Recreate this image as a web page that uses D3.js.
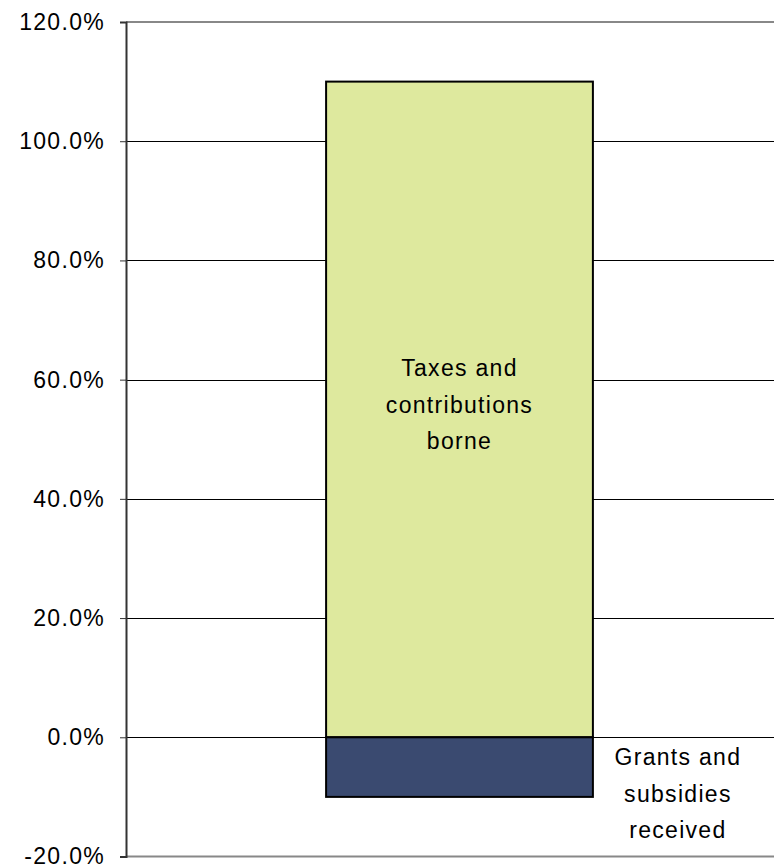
<!DOCTYPE html>
<html>
<head>
<meta charset="utf-8">
<script src="https://cdn.jsdelivr.net/npm/d3@7"></script>
<style>
  html, body { margin: 0; padding: 0; background: #fff; }
  svg text { font-family: "Liberation Sans", Arial, sans-serif; font-size: 23px; fill: #000; letter-spacing: 1.3px; }
</style>
</head>
<body>
<svg id="chart" width="774" height="866"></svg>
<script>
// Single stacked column: share borne vs. share received
const categories = [""];
const taxesBorne = [1.10];
const grantsReceived = [-0.10];
const yTicks = [-0.2, 0, 0.2, 0.4, 0.6, 0.8, 1.0, 1.2];
const taxesLabel = ["Taxes and", "contributions", "borne"];
const grantsLabel = ["Grants and", "subsidies", "received"];

const svg = d3.select("#chart");
const plot = { left: 126, right: 793, top: 22, bottom: 856.5 };

const y = d3.scaleLinear().domain([-0.2, 1.2]).range([plot.bottom, plot.top]);
const x = d3.scaleBand().domain(categories).range([plot.left, plot.right])
  .paddingInner(0.6).paddingOuter(0.3);

// Horizontal gridlines
svg.append("g").selectAll("line")
  .data(yTicks.filter(t => t > -0.2 && t < 1.2))
  .join("line")
  .attr("x1", plot.left).attr("x2", 774)
  .attr("y1", d => Math.round(y(d)) + 0.5).attr("y2", d => Math.round(y(d)) + 0.5)
  .attr("stroke", "#000").attr("stroke-width", 1);

// Plot area top and bottom border
[1.2, -0.2].forEach(t => {
  svg.append("line")
    .attr("x1", plot.left).attr("x2", 774)
    .attr("y1", y(t)).attr("y2", y(t))
    .attr("stroke", "#888").attr("stroke-width", 2);
});

// Bars
const bx = x(categories[0]);
const bw = x.bandwidth();
svg.append("rect")
  .attr("x", bx).attr("y", y(taxesBorne[0]))
  .attr("width", bw).attr("height", y(0) - y(taxesBorne[0]))
  .attr("fill", "#DEE99E").attr("stroke", "#000").attr("stroke-width", 2);
svg.append("rect")
  .attr("x", bx).attr("y", y(0))
  .attr("width", bw).attr("height", y(grantsReceived[0]) - y(0))
  .attr("fill", "#3A4A70").attr("stroke", "#000").attr("stroke-width", 2);

// Y axis
const axis = d3.axisLeft(y).tickValues(yTicks).tickSize(6).tickPadding(15)
  .tickFormat(d3.format(".1%"));
const g = svg.append("g").attr("transform", `translate(${plot.left},0)`).call(axis);
g.select(".domain").attr("stroke", "#333").attr("stroke-width", 2);
g.selectAll(".tick line").attr("stroke", "#333").attr("stroke-width", 1);
g.selectAll(".tick text")
  .attr("font-family", null).attr("font-size", null)
  .attr("dy", "0.32em").text(d => d3.format(".1%")(d).replace("−", "-"));

// Bar labels
const lineH = 36.5;
const tMid = y(taxesBorne[0] / 2) + 3.5;
svg.append("text").attr("text-anchor", "middle")
  .selectAll("tspan").data(taxesLabel).join("tspan")
  .attr("x", bx + bw / 2).attr("y", (d, i) => tMid + (i - 1) * lineH)
  .text(d => d);

const gMid = y(grantsReceived[0]) + 5;
svg.append("text").attr("text-anchor", "middle")
  .selectAll("tspan").data(grantsLabel).join("tspan")
  .attr("x", bx + bw + 85).attr("y", (d, i) => gMid + (i - 1) * lineH)
  .text(d => d);
</script>
</body>
</html>
